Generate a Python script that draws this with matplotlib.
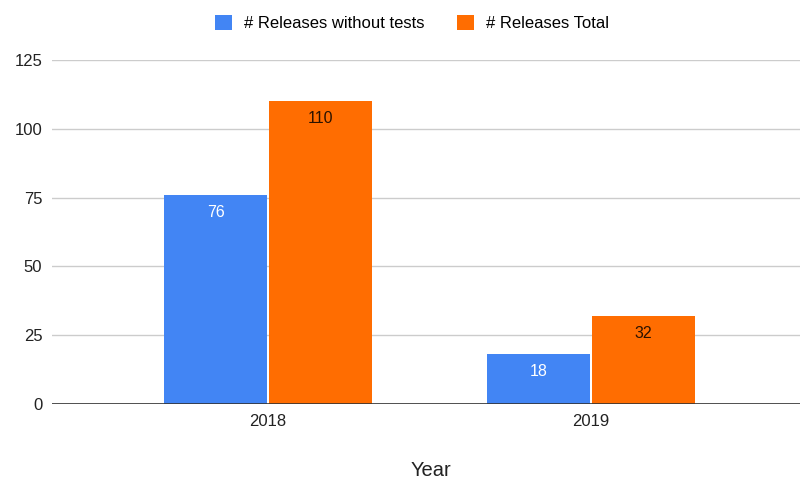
import matplotlib.pyplot as plt
import numpy as np

plt.rcParams['font.family'] = ['Liberation Sans', 'DejaVu Sans']

# Release counts per year
years = ["2018", "2019"]
without_tests = [76, 18]
total = [110, 32]
series_names = ["# Releases without tests", "# Releases Total"]

blue = "#4285F4"
orange = "#FF6D01"

fig = plt.figure(figsize=(8, 4.82), dpi=100)
ax = fig.add_axes([0.065, 0.1618, 0.935, 0.7137])

x = np.arange(len(years))
w = 0.319
b1 = ax.bar(x - w / 2 - 0.002, without_tests, w, color=blue, label=series_names[0], zorder=3)
b2 = ax.bar(x + w / 2 + 0.002, total, w, color=orange, label=series_names[1], zorder=3)

# value labels inside the top of each bar
for rect, v in zip(b1, without_tests):
    ax.annotate(str(v), (rect.get_x() + rect.get_width() / 2, v), xytext=(0, -12.5),
                textcoords="offset points", ha="center", va="center",
                color="white", fontsize=11.5, zorder=4)
for rect, v in zip(b2, total):
    ax.annotate(str(v), (rect.get_x() + rect.get_width() / 2, v), xytext=(0, -12.5),
                textcoords="offset points", ha="center", va="center",
                color="#2b1200", fontsize=11.5, zorder=4)

ax.set_ylim(0, 125)
ax.set_yticks([0, 25, 50, 75, 100, 125])
ax.set_xlim(-0.669, 1.647)
ax.set_xticks(x)
ax.set_xticklabels(years)
ax.grid(axis="y", color="#cccccc", linewidth=1, zorder=0)
ax.axhline(0, color="#333333", linewidth=1.2, zorder=5)
for s in ax.spines.values():
    s.set_visible(False)
ax.tick_params(axis="both", length=0, labelsize=12, colors="#222222")
ax.tick_params(axis="y", pad=7)
ax.tick_params(axis="x", pad=7)
ax.set_xlabel("Year", fontsize=14.5, color="#222222", va="center")
ax.xaxis.set_label_coords(0.507, -0.192)

fig.legend(loc="upper center", bbox_to_anchor=(0.515, 1.0), ncol=2, frameon=False,
           fontsize=12, handlelength=1.0, handleheight=1.0, columnspacing=2.0,
           handletextpad=0.7)

fig.savefig("out.png", dpi=100)
plt.close(fig)
